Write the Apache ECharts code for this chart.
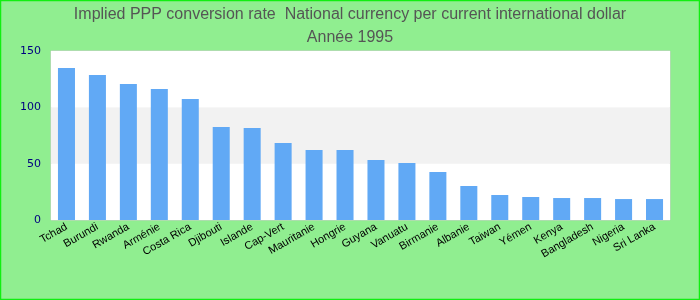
<!DOCTYPE html>
<html><head><meta charset="utf-8">
<script src="https://cdn.jsdelivr.net/npm/echarts@6/dist/echarts.min.js"></script>
<style>html,body{margin:0;padding:0;}#c{width:700px;height:300px;}</style>
</head><body><div id="c"></div>
<script>
const categories = ["Tchad","Burundi","Rwanda","Arménie","Costa Rica","Djibouti","Islande","Cap-Vert","Mauritanie","Hongrie","Guyana","Vanuatu","Birmanie","Albanie","Taiwan","Yémen","Kenya","Bangladesh","Nigeria","Sri Lanka"];
const values = [135, 128.7, 120.7, 116.2, 107.4, 82.5, 81.6, 68.3, 62.1, 62.1, 53.2, 50.6, 42.6, 30.2, 22.2, 20.4, 19.5, 19.5, 18.6, 18.6];
const titleLines = ["Implied PPP conversion rate  National currency per current international dollar", "Année 1995"];

const chart = echarts.init(document.getElementById('c'), null, {renderer:'canvas'});
chart.setOption({
  backgroundColor: '#90EE90',
  animation: false,
  graphic: [{type:'rect', shape:{x:0.5, y:0.5, width:699, height:299}, style:{fill:'none', stroke:'#11ee11', lineWidth:1.5}, silent:true, z:100}],
  title: {
    text: titleLines.join('\n'),
    left: 'center', top: -2,
    textStyle: {color:'#555555', fontSize:16, fontWeight:'normal', fontFamily:'Liberation Sans, Arial', lineHeight:23}
  },
  grid: {left:51, right:30, top:51, bottom:80, show:true, borderColor:'#cccccc', borderWidth:1, backgroundColor:'#ffffff'},
  xAxis: {
    type:'category', data:categories,
    axisLine:{show:false}, axisTick:{show:false},
    axisLabel:{rotate:30, color:'#000000', fontSize:11, fontFamily:'Liberation Sans, Arial', interval:0, margin:6}
  },
  yAxis: {
    type:'value', min:0, max:150, interval:50,
    axisLine:{show:false}, axisTick:{show:false},
    splitLine:{show:false},
    splitArea:{show:true, areaStyle:{color:['#ffffff','#f2f2f2']}},
    axisLabel:{color:'#000080', fontSize:11, fontFamily:'DejaVu Sans', margin:10}
  },
  series: [{type:'bar', data:values, barWidth:'55%', itemStyle:{color:'#61a9f5'}}]
});
</script>
</body></html>
